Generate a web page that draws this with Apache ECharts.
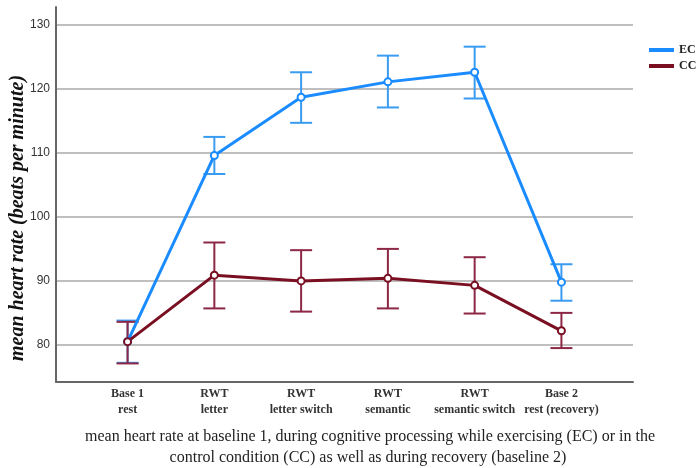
<!DOCTYPE html>
<html>
<head>
<meta charset="utf-8">
<script src="https://cdn.jsdelivr.net/npm/echarts@6/dist/echarts.min.js"></script>
<style>
  html, body { margin: 0; padding: 0; background: #fff; }
  #chart { width: 700px; height: 468px; }
</style>
</head>
<body>
<div id="chart"></div>
<script>
const categories = ['Base 1\nrest', 'RWT\nletter', 'RWT\nletter switch', 'RWT\nsemantic', 'RWT\nsemantic switch', 'Base 2\nrest (recovery)']
const yTicks = [80, 90, 100, 110, 120, 130]

const ecMean = [80.5, 109.6, 118.7, 121.1, 122.6, 89.8]
const ecLow = [77.2, 106.7, 114.7, 117.1, 118.5, 86.9]
const ecHigh = [83.8, 112.5, 122.6, 125.2, 126.6, 92.6]

const ccMean = [80.5, 90.9, 90.0, 90.4, 89.3, 82.2]
const ccLow = [77.1, 85.7, 85.2, 85.7, 84.9, 79.5]
const ccHigh = [83.6, 96.0, 94.8, 95.0, 93.7, 85.0]

const EC_LINE = '#1a8cff'
const EC_BAR = '#3a9cf0'
const CC_LINE = '#7a0f22'
const CC_BAR = '#8c2846'
const SERIF = '"Liberation Serif", "Times New Roman", serif'

const idx = categories.map((_, i) => i)

// error bars: vertical line + two caps
const errorBars = (name, low, high, color) => ({
  type: 'custom',
  name: name + '-err',
  silent: true,
  data: idx.map((i) => [i, low[i], high[i]]),
  renderItem: (params, api) => {
    const x = api.value(0)
    const lo = api.coord([x, api.value(1)])
    const hi = api.coord([x, api.value(2)])
    const half = 11
    const style = { stroke: color, lineWidth: 2 }
    return {
      type: 'group',
      children: [
        { type: 'line', shape: { x1: lo[0], y1: lo[1], x2: hi[0], y2: hi[1] }, style },
        { type: 'line', shape: { x1: lo[0] - half, y1: lo[1], x2: lo[0] + half, y2: lo[1] }, style },
        { type: 'line', shape: { x1: hi[0] - half, y1: hi[1], x2: hi[0] + half, y2: hi[1] }, style },
      ],
    }
  },
  z: 2,
})

const meanLine = (name, values, color) => ({
  type: 'line',
  name,
  data: idx.map((i) => [i, values[i]]),
  symbol: 'emptyCircle',
  symbolSize: 7,
  lineStyle: { color, width: 3 },
  itemStyle: { color, borderWidth: 1.5 },
  z: 3,
})

const chart = echarts.init(document.getElementById('chart'))

chart.setOption({
  animation: false,
  grid: { left: 56, right: 67, top: 7, bottom: 86 },
  legend: {
    orient: 'vertical',
    left: 644,
    top: 38,
    itemWidth: 25,
    itemHeight: 4,
    itemGap: 2,
    icon: 'rect',
    data: [
      { name: 'EC', itemStyle: { color: EC_LINE } },
      { name: 'CC', itemStyle: { color: CC_LINE } },
    ],
    textStyle: { fontFamily: SERIF, fontWeight: 'bold', fontSize: 12, color: '#222', lineHeight: 14 },
  },
  xAxis: {
    type: 'value',
    min: -0.825,
    max: 5.825,
    axisLine: { show: true, onZero: false, lineStyle: { color: '#666', width: 2 } },
    axisTick: { show: false },
    splitLine: { show: false },
    axisLabel: {
      customValues: idx,
      formatter: (v) => categories[Math.round(v)] || '',
      fontFamily: SERIF,
      fontWeight: 'bold',
      fontSize: 12,
      lineHeight: 16,
      color: '#333',
      margin: 4,
    },
  },
  yAxis: {
    type: 'value',
    min: 74.2,
    max: 132.8,
    axisLine: { show: true, onZero: false, lineStyle: { color: '#666', width: 2 } },
    axisTick: { show: false, customValues: yTicks },
    splitLine: { show: true, lineStyle: { color: '#aaa', width: 1.5 } },
    axisLabel: {
      customValues: yTicks,
      fontFamily: '"Liberation Sans", Arial, sans-serif',
      fontSize: 12,
      color: '#333',
      margin: 6,
    },
  },
  graphic: [
    {
      type: 'text',
      x: 18,
      y: 218,
      rotation: Math.PI / 2,
      style: {
        text: 'mean heart rate (beats per minute)',
        font: 'italic bold 20px ' + SERIF,
        fill: '#111',
        align: 'center',
        verticalAlign: 'middle',
      },
    },
    {
      type: 'text',
      x: 370,
      y: 437,
      style: {
        text: 'mean heart rate at baseline 1, during cognitive processing while exercising (EC) or in the',
        font: '16px ' + SERIF,
        fill: '#222',
        align: 'center',
        verticalAlign: 'middle',
      },
    },
    {
      type: 'text',
      x: 368,
      y: 458,
      style: {
        text: 'control condition (CC) as well as during recovery (baseline 2)',
        font: '16px ' + SERIF,
        fill: '#222',
        align: 'center',
        verticalAlign: 'middle',
      },
    },
  ],
  series: [
    errorBars('EC', ecLow, ecHigh, EC_BAR),
    meanLine('EC', ecMean, EC_LINE),
    errorBars('CC', ccLow, ccHigh, CC_BAR),
    meanLine('CC', ccMean, CC_LINE),
  ],
})

window.addEventListener('resize', () => chart.resize())
</script>
</body>
</html>
